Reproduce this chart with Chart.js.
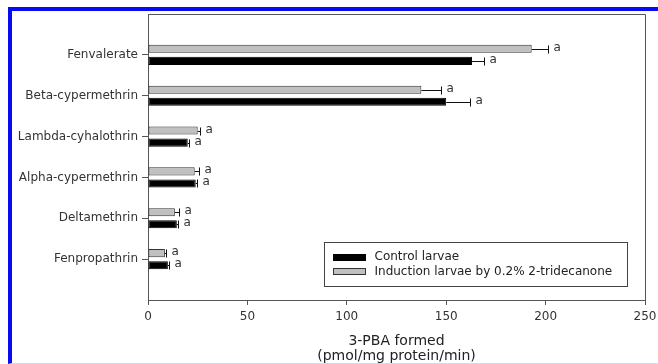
<!DOCTYPE html>
<html>
<head>
<meta charset="utf-8">
<script src="https://cdn.jsdelivr.net/npm/chart.js@4.4.1/dist/chart.umd.min.js"></script>
<style>
  html, body { margin: 0; padding: 0; background: #fff; }
  #wrap { position: relative; width: 658px; height: 364px; overflow: hidden; }
  #frame {
    position: absolute; left: 8px; top: 7px; right: 0; bottom: 0;
    border-top: 4px solid #0a0af0; border-left: 4px solid #0a0af0;
    border-bottom: 1px solid #d8d8f4; pointer-events: none;
  }
</style>
</head>
<body>
<div id="wrap">
  <canvas id="chart" width="658" height="364"></canvas>
  <div id="frame"></div>
</div>
<script>
// data
const categories = ["Fenvalerate", "Beta-cypermethrin", "Lambda-cyhalothrin", "Alpha-cypermethrin", "Deltamethrin", "Fenpropathrin"];
const controlValues = [163, 150, 20, 24, 14.5, 10];
const controlErrors = [6, 12, 0.5, 0.5, 0.5, 0.5];
const controlLetters = ["a", "a", "a", "a", "a", "a"];
const inductionValues = [193, 137.5, 25, 23.5, 13.5, 8.5];
const inductionErrors = [8, 10, 1, 2, 2, 0.5];
const inductionLetters = ["a", "a", "a", "a", "a", "a"];
const xTicks = [0, 50, 100, 150, 200, 250];

const controlLabel = "Control larvae";
const inductionLabel = "Induction larvae by 0.2% 2-tridecanone";

// empty slot above and below the six categories, like the original
const axisLabels = ["", ...categories, ""];
const pad = arr => [null, ...arr, null];

Chart.defaults.font.family = "'DejaVu Sans', sans-serif";
Chart.defaults.font.size = 12;
Chart.defaults.color = "#333";

const errorBars = {
  id: "errorBars",
  afterDatasetsDraw(chart) {
    const ctx = chart.ctx;
    const xs = chart.scales.x;
    const sets = [
      { meta: chart.getDatasetMeta(0), values: inductionValues, errors: inductionErrors, letters: inductionLetters },
      { meta: chart.getDatasetMeta(1), values: controlValues, errors: controlErrors, letters: controlLetters }
    ];
    ctx.save();
    ctx.strokeStyle = "#111";
    ctx.lineWidth = 1;
    ctx.font = "12px 'DejaVu Sans', sans-serif";
    ctx.fillStyle = "#333";
    ctx.textBaseline = "middle";
    ctx.textAlign = "left";
    sets.forEach(s => {
      s.values.forEach((v, i) => {
        const bar = s.meta.data[i + 1];
        if (!bar) return;
        const y = Math.round(bar.y) + 0.5;
        const h = bar.height;
        const x0 = xs.getPixelForValue(v);
        const x1 = Math.round(xs.getPixelForValue(v + s.errors[i])) + 0.5;
        ctx.beginPath();
        ctx.moveTo(x0, y);
        ctx.lineTo(x1, y);
        ctx.moveTo(x1, y - h / 2);
        ctx.lineTo(x1, y + h / 2);
        ctx.stroke();
        ctx.fillText(s.letters[i], x1 + 5, y - 2);
      });
    });
    ctx.restore();
  }
};

const frameAndLegend = {
  id: "frameAndLegend",
  afterDraw(chart) {
    const ctx = chart.ctx;
    const a = chart.chartArea;
    ctx.save();
    // top + right frame
    ctx.strokeStyle = "#555";
    ctx.lineWidth = 1;
    ctx.beginPath();
    ctx.moveTo(a.left, a.top + 0.5);
    ctx.lineTo(a.right + 0.5, a.top + 0.5);
    ctx.lineTo(a.right + 0.5, a.bottom);
    ctx.stroke();

    // legend box, bottom right inside the plot
    const w = 303, h = 44;
    const bx = Math.round(a.right - 18 - w) + 0.5;
    const by = Math.round(a.bottom - 14 - h) + 0.5;
    ctx.strokeStyle = "#444";
    ctx.strokeRect(bx, by, w, h);

    const items = [
      { label: controlLabel, ds: chart.data.datasets[1] },
      { label: inductionLabel, ds: chart.data.datasets[0] }
    ];
    ctx.font = "12px 'DejaVu Sans', sans-serif";
    ctx.textBaseline = "middle";
    ctx.textAlign = "left";
    items.forEach((it, k) => {
      const cy = by + 14.5 + k * 14.5;
      ctx.fillStyle = it.ds.backgroundColor;
      ctx.fillRect(bx + 9, Math.round(cy - 3.5), 32, 7);
      ctx.strokeStyle = it.ds.borderColor;
      ctx.strokeRect(bx + 9, Math.round(cy - 3.5) + 0.5, 32, 6);
      ctx.fillStyle = "#222";
      ctx.fillText(it.label, bx + 50, cy);
    });
    ctx.restore();
  }
};

new Chart(document.getElementById("chart"), {
  type: "bar",
  data: {
    labels: axisLabels,
    datasets: [
      {
        label: inductionLabel,
        data: pad(inductionValues),
        backgroundColor: "#c0c0c0",
        borderColor: "#333",
        borderWidth: 1,
        borderSkipped: false,
        categoryPercentage: 0.59,
        barPercentage: 0.67
      },
      {
        label: controlLabel,
        data: pad(controlValues),
        backgroundColor: "#000",
        borderColor: "#000",
        borderWidth: 1,
        borderSkipped: false,
        categoryPercentage: 0.59,
        barPercentage: 0.67
      }
    ]
  },
  options: {
    indexAxis: "y",
    responsive: false,
    animation: false,
    layout: { padding: { left: 0, top: 14, right: 13, bottom: 0 } },
    plugins: {
      legend: { display: false },
      tooltip: { enabled: false }
    },
    scales: {
      x: {
        min: 0,
        max: 250,
        afterBuildTicks: axis => { axis.ticks = xTicks.map(v => ({ value: v })); },
        afterFit: axis => {
          axis.height = 64;
          axis.paddingLeft = 0;
          axis.paddingRight = 0;
        },
        grid: { drawOnChartArea: false, drawTicks: true, tickLength: 5, color: "#555" },
        border: { color: "#555", width: 1 },
        ticks: { padding: 5, color: "#333", font: { size: 12 } },
        title: {
          display: true,
          text: ["3-PBA formed", "(pmol/mg protein/min)"],
          color: "#222",
          font: { size: 14, lineHeight: 1.07 },
          padding: { top: 0, bottom: 0 }
        }
      },
      y: {
        offset: false,
        afterFit: axis => {
          axis.width = 148;
          axis.paddingTop = 0;
          axis.paddingBottom = 0;
        },
        grid: {
          offset: false,
          drawOnChartArea: false,
          drawTicks: true,
          tickLength: 6,
          color: c => (c.index === 0 || c.index === axisLabels.length - 1) ? "rgba(0,0,0,0)" : "#555"
        },
        border: { color: "#555", width: 1 },
        ticks: { autoSkip: false, padding: 4, color: "#333", font: { size: 12 } }
      }
    }
  },
  plugins: [errorBars, frameAndLegend]
});
</script>
</body>
</html>
